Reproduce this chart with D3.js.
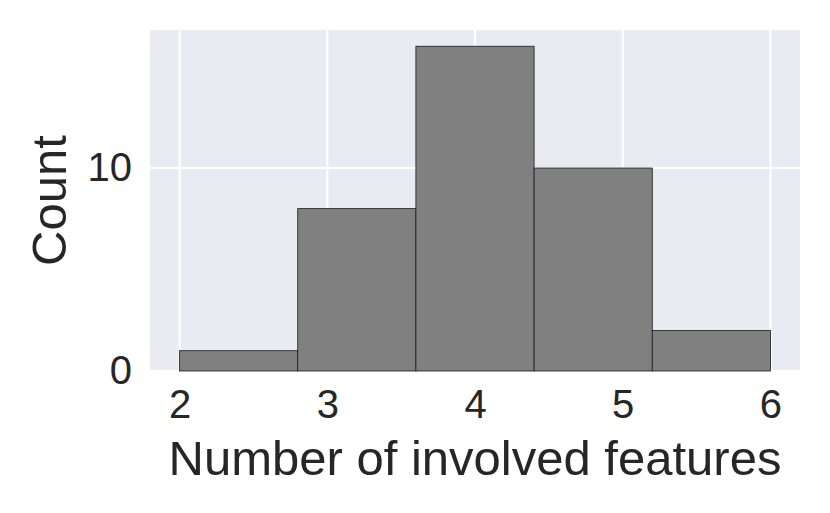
<!DOCTYPE html>
<html><head><meta charset="utf-8">
<script src="https://cdn.jsdelivr.net/npm/d3@7"></script>
<style>body{margin:0;background:#fff}svg{display:block}text{font-family:"Liberation Sans",Arial,sans-serif;fill:#262626}</style>
</head><body><svg id="c" width="830" height="513"></svg>
<script>
const binEdges = [2, 2.8, 3.6, 4.4, 5.2, 6];
const counts = [1, 8, 16, 10, 2];
const xTicks = [2, 3, 4, 5, 6];
const yTicks = [0, 10];
const xLabel = "Number of involved features";
const yLabel = "Count";

const svg = d3.select("#c");
const L = 150, R = 800, T = 30, B = 371;
const x = d3.scaleLinear().domain([1.8, 6.2]).range([L, R]);
const y = d3.scaleLinear().domain([0, 16.8]).range([B, T]);

svg.append("rect").attr("x", L).attr("y", T).attr("width", R - L).attr("height", B - T).attr("fill", "#EAEAF2");
svg.selectAll("line.gx").data(xTicks).join("line").attr("x1", d => x(d)).attr("x2", d => x(d)).attr("y1", T).attr("y2", B).attr("stroke", "#fff").attr("stroke-width", 2.2);
svg.selectAll("line.gy").data(yTicks).join("line").attr("y1", d => y(d)).attr("y2", d => y(d)).attr("x1", L).attr("x2", R).attr("stroke", "#fff").attr("stroke-width", 2.2);

svg.selectAll("rect.bar").data(counts).join("rect").attr("class", "bar")
  .attr("x", (d, i) => x(binEdges[i])).attr("width", (d, i) => x(binEdges[i + 1]) - x(binEdges[i]))
  .attr("y", d => y(d)).attr("height", d => y(0) - y(d))
  .attr("fill", "#808080").attr("stroke", "#1a1a1a").attr("stroke-width", 0.8);

const xa = svg.append("g").attr("transform", `translate(0,${B})`).call(d3.axisBottom(x).tickValues(xTicks).tickSize(0).tickPadding(19).tickFormat(d3.format("d")));
xa.select(".domain").remove();
xa.selectAll("text").attr("font-size", 40).attr("fill", "#262626").attr("font-family", "Liberation Sans, Arial, sans-serif");
const ya = svg.append("g").attr("transform", `translate(${L},0)`).call(d3.axisLeft(y).tickValues(yTicks).tickSize(0).tickPadding(18).tickFormat(d3.format("d")));
ya.select(".domain").remove();
ya.selectAll("text").attr("font-size", 40).attr("fill", "#262626").attr("font-family", "Liberation Sans, Arial, sans-serif");

svg.append("text").attr("x", 475).attr("y", 475).attr("text-anchor", "middle").attr("font-size", 49).text(xLabel);
svg.append("text").attr("transform", `translate(66,${(T + B) / 2}) rotate(-90)`).attr("text-anchor", "middle").attr("font-size", 49).text(yLabel);
</script></body></html>
